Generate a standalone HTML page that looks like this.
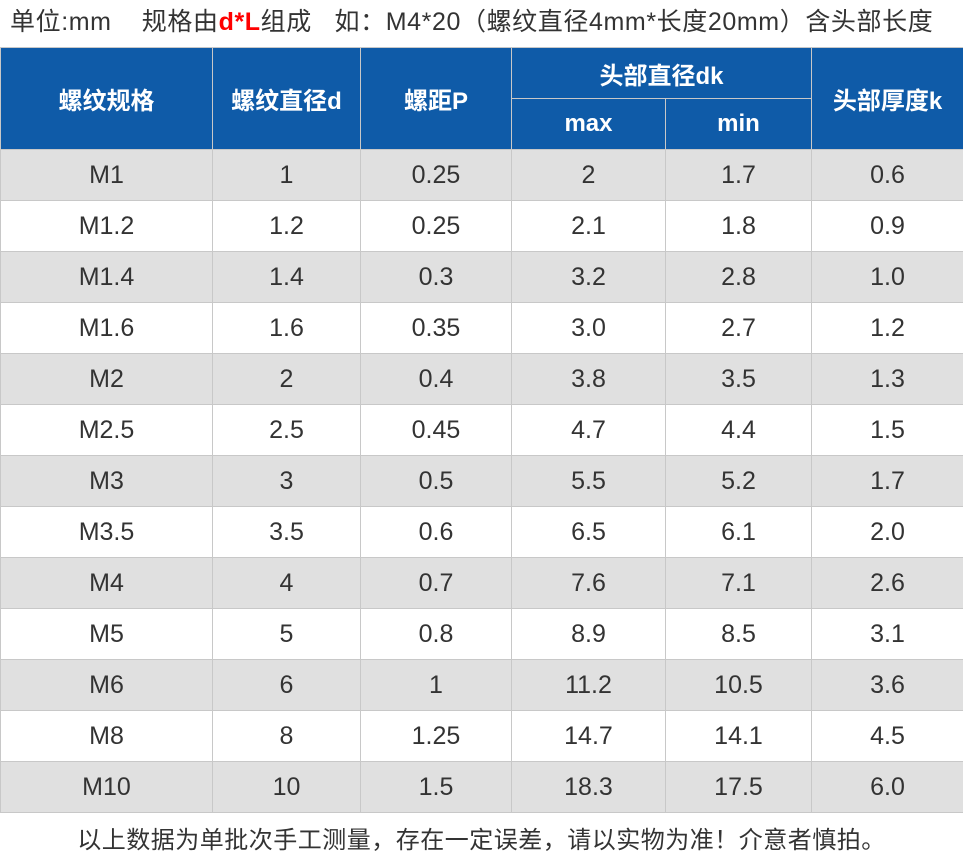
<!DOCTYPE html>
<html><head><meta charset="utf-8"><style>
body{margin:0;width:963px;height:856px;background:#fff;position:relative;overflow:hidden;font-family:"Liberation Sans","Noto Sans CJK SC",sans-serif;}
.t{position:absolute;left:10px;top:4px;font-size:25px;color:#333;white-space:pre;line-height:36px;letter-spacing:0.6px}
.r{color:#f00;font-weight:bold}
table{position:absolute;left:0;top:47px;border-collapse:collapse;width:963px;table-layout:fixed}
td,th{border:1px solid #c8c8c8;text-align:center;padding:0;font-size:25px;color:#333}
th{background:#0F5BA8;color:#fff;font-weight:bold;border-color:#c8c8c8;font-size:24px}
tr.h1 th{height:50px} tr.h2 th{height:50px}
td{height:50px}
tbody tr:nth-child(odd) td{background:#e0e0e0}
.b{position:absolute;left:0;width:963px;top:820px;text-align:center;font-size:24px;color:#333;letter-spacing:0.5px}
</style></head><body>
<div class="t">单位:mm    规格由<span class="r">d*L</span>组成   如：M4*20（螺纹直径4mm*长度20mm）含头部长度</div>
<table>
<colgroup><col style="width:212px"><col style="width:148px"><col style="width:151px"><col style="width:154px"><col style="width:146px"><col style="width:152px"></colgroup>
<thead>
<tr class="h1"><th rowspan="2">螺纹规格</th><th rowspan="2">螺纹直径d</th><th rowspan="2">螺距P</th><th colspan="2">头部直径dk</th><th rowspan="2">头部厚度k</th></tr>
<tr class="h2"><th>max</th><th>min</th></tr>
</thead>
<tbody>
<tr><td>M1</td><td>1</td><td>0.25</td><td>2</td><td>1.7</td><td>0.6</td></tr>
<tr><td>M1.2</td><td>1.2</td><td>0.25</td><td>2.1</td><td>1.8</td><td>0.9</td></tr>
<tr><td>M1.4</td><td>1.4</td><td>0.3</td><td>3.2</td><td>2.8</td><td>1.0</td></tr>
<tr><td>M1.6</td><td>1.6</td><td>0.35</td><td>3.0</td><td>2.7</td><td>1.2</td></tr>
<tr><td>M2</td><td>2</td><td>0.4</td><td>3.8</td><td>3.5</td><td>1.3</td></tr>
<tr><td>M2.5</td><td>2.5</td><td>0.45</td><td>4.7</td><td>4.4</td><td>1.5</td></tr>
<tr><td>M3</td><td>3</td><td>0.5</td><td>5.5</td><td>5.2</td><td>1.7</td></tr>
<tr><td>M3.5</td><td>3.5</td><td>0.6</td><td>6.5</td><td>6.1</td><td>2.0</td></tr>
<tr><td>M4</td><td>4</td><td>0.7</td><td>7.6</td><td>7.1</td><td>2.6</td></tr>
<tr><td>M5</td><td>5</td><td>0.8</td><td>8.9</td><td>8.5</td><td>3.1</td></tr>
<tr><td>M6</td><td>6</td><td>1</td><td>11.2</td><td>10.5</td><td>3.6</td></tr>
<tr><td>M8</td><td>8</td><td>1.25</td><td>14.7</td><td>14.1</td><td>4.5</td></tr>
<tr><td>M10</td><td>10</td><td>1.5</td><td>18.3</td><td>17.5</td><td>6.0</td></tr>
</tbody></table>
<div class="b">以上数据为单批次手工测量，存在一定误差，请以实物为准！介意者慎拍。</div>
</body></html>
